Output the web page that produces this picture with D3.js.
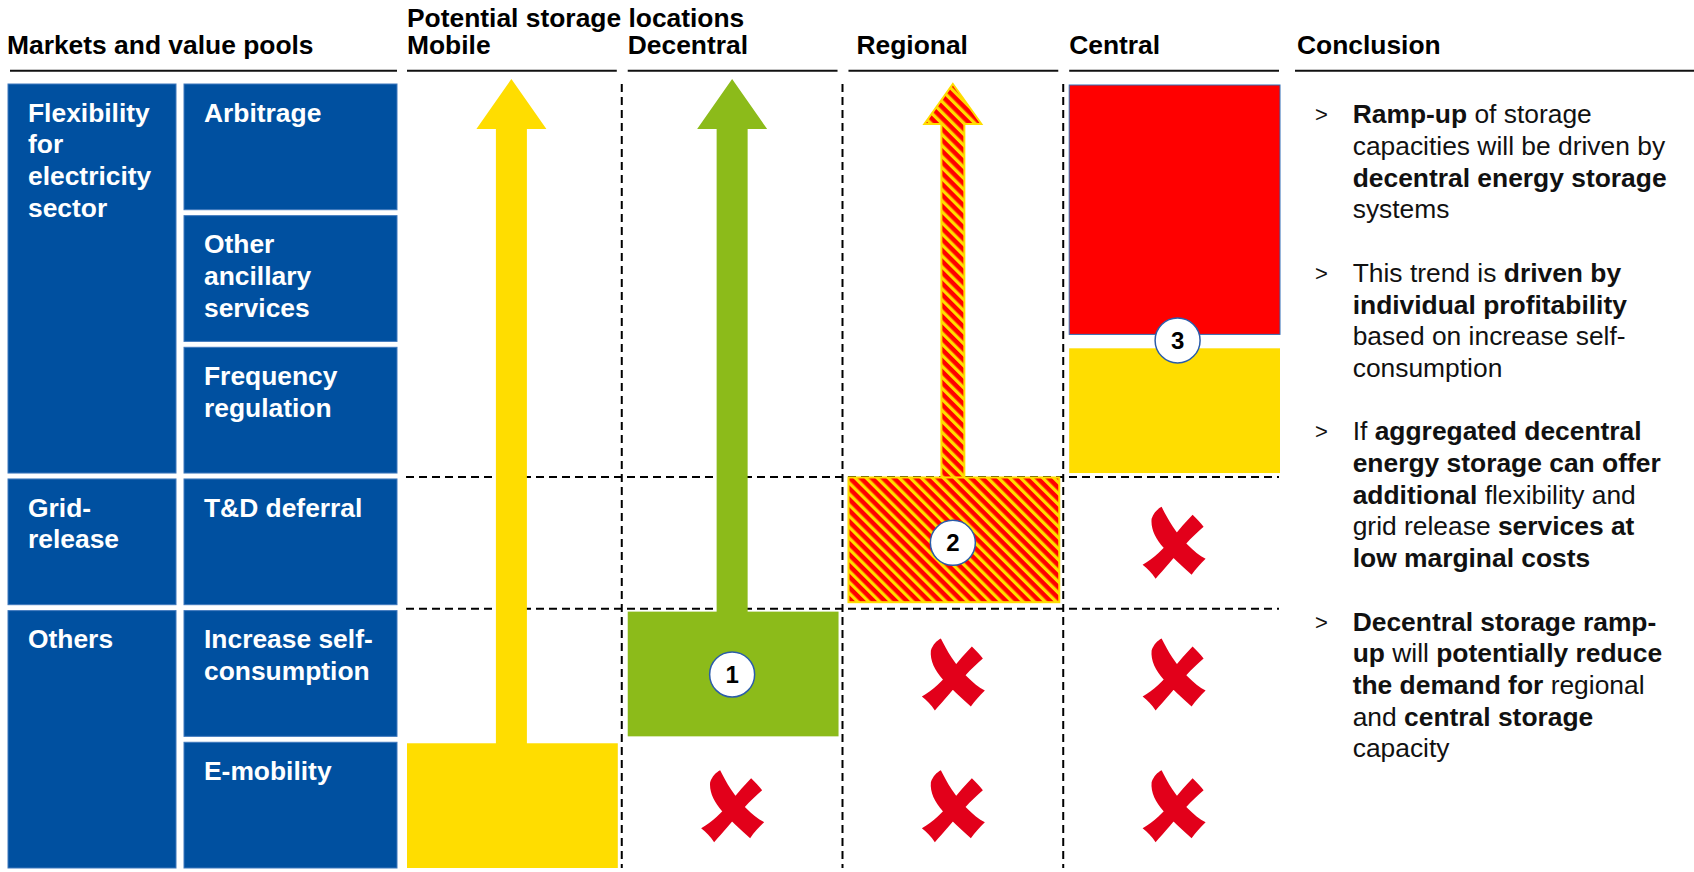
<!DOCTYPE html>
<html>
<head>
<meta charset="utf-8">
<script src="https://cdn.jsdelivr.net/npm/d3@7"></script>
<style>
  body { margin: 0; background: #fff; }
  svg { display: block; font-family: "Liberation Sans", Arial, sans-serif; }
</style>
</head>
<body>
<div id="chart"></div>
<script>
'use strict';

// ---- data ----
var pools = ['Arbitrage', 'Other ancillary services', 'Frequency regulation',
  'T&D deferral', 'Increase self-consumption', 'E-mobility'];
var poolLines = [['Arbitrage'], ['Other', 'ancillary', 'services'], ['Frequency', 'regulation'],
  ['T&D deferral'], ['Increase self-', 'consumption'], ['E-mobility']];

var groups = ['Flexibility for electricity sector', 'Grid-release', 'Others'];
var groupLines = [['Flexibility', 'for', 'electricity', 'sector'], ['Grid-', 'release'], ['Others']];
// first and last pool covered by each group
var groupSpan = [['Arbitrage', 'Frequency regulation'], ['T&D deferral', 'T&D deferral'],
  ['Increase self-consumption', 'E-mobility']];

var locations = ['Mobile', 'Decentral', 'Regional', 'Central'];

// where each storage location is served today (block) and where it can grow (arrow)
var blocks = [
  { loc: 'Mobile', from: 'E-mobility', to: 'E-mobility', fill: 'yellow' },
  { loc: 'Decentral', from: 'Increase self-consumption', to: 'Increase self-consumption', fill: 'green' },
  { loc: 'Regional', from: 'T&D deferral', to: 'T&D deferral', fill: 'hatch' },
  { loc: 'Central', from: 'Arbitrage', to: 'Other ancillary services', fill: 'red' },
  { loc: 'Central', from: 'Frequency regulation', to: 'Frequency regulation', fill: 'yellow' }
];
var arrows = [
  { loc: 'Mobile', from: 'E-mobility', fill: 'yellow' },
  { loc: 'Decentral', from: 'Increase self-consumption', fill: 'green' },
  { loc: 'Regional', from: 'T&D deferral', fill: 'hatch' }
];
var crosses = [
  ['Decentral', 'E-mobility'],
  ['Regional', 'Increase self-consumption'], ['Regional', 'E-mobility'],
  ['Central', 'T&D deferral'], ['Central', 'Increase self-consumption'], ['Central', 'E-mobility']
];
var badges = [
  { n: 1, loc: 'Decentral', pool: 'Increase self-consumption' },
  { n: 2, loc: 'Regional', pool: 'T&D deferral' },
  { n: 3, loc: 'Central', pool: 'Other ancillary services', edge: 'bottom' }
];

var headers = ['Markets and value pools', 'Conclusion'];
var superHeader = 'Potential storage locations';

// ** marks bold runs
var conclusions = [
  ['**Ramp-up** of storage', 'capacities will be driven by', '**decentral energy storage**', 'systems'],
  ['This trend is **driven by**', '**individual profitability**', 'based on increase self-', 'consumption'],
  ['If **aggregated decentral**', '**energy storage can offer**', '**additional** flexibility and',
    'grid release **services at**', '**low marginal costs**'],
  ['**Decentral storage ramp-**', '**up** will **potentially reduce**', '**the demand for** regional',
    'and **central storage**', 'capacity']
];

// ---- look ----
var width = 1694, height = 872;
var fs = 26.4, lineH = 31.7;
var colors = { blue: '#0050a0', yellow: '#ffdd00', green: '#8cbb1a', red: '#ff0000', cross: '#e2001a' };

var svg = d3.select('#chart').append('svg')
  .attr('width', width)
  .attr('height', height);

var defs = svg.append('defs');
var hatch = defs.append('pattern')
  .attr('id', 'hatch')
  .attr('patternUnits', 'userSpaceOnUse')
  .attr('width', 7.8).attr('height', 7.8)
  .attr('patternTransform', 'rotate(-45)');
hatch.append('rect').attr('width', 7.8).attr('height', 7.8).attr('fill', colors.red);
hatch.append('rect').attr('width', 3.3).attr('height', 7.8).attr('fill', colors.yellow);

function fillOf(k) { return k === 'hatch' ? 'url(#hatch)' : colors[k]; }

// scales
var y = d3.scaleBand().domain(pools).range([84, 868]).paddingInner(0.045);
var x = d3.scaleBand().domain(locations).range([406, 1279]).paddingInner(0.045);
var xLeft = d3.scaleOrdinal().domain(['group', 'pool']).range([[8, 176], [184, 397]]);
var conclX = [1295, width];

// ---- headers ----
var hdr = svg.append('g').attr('font-weight', 'bold').attr('font-size', fs).attr('fill', '#000');
hdr.append('text').attr('x', xLeft('group')[0] - 1).attr('y', 54).text(headers[0]);
hdr.append('text').attr('x', x('Mobile') + 1).attr('y', 27).text(superHeader);
hdr.selectAll('text.loc').data(locations).enter().append('text')
  .attr('class', 'loc')
  .attr('x', function(d) { return x(d) + (d === 'Regional' ? 9 : 1); })
  .attr('y', 54)
  .text(function(d) { return d; });
hdr.append('text').attr('x', conclX[0] + 2).attr('y', 54).text(headers[1]);

var rules = [[xLeft('group')[0] + 2, xLeft('pool')[1]]]
  .concat(locations.map(function(d) { return [x(d) + 1, x(d) + x.bandwidth()]; }))
  .concat([conclX]);
svg.append('g').selectAll('line').data(rules).enter().append('line')
  .attr('x1', function(d) { return d[0]; })
  .attr('x2', function(d) { return d[1]; })
  .attr('y1', 70.7).attr('y2', 70.7)
  .attr('stroke', '#111').attr('stroke-width', 2);

// ---- blue market boxes ----
function cellLines(g, x0, top, lines) {
  g.append('text')
    .attr('fill', '#fff').attr('font-weight', 'bold').attr('font-size', fs)
    .selectAll('tspan').data(lines).enter().append('tspan')
    .attr('x', x0 + 20)
    .attr('y', function(d, i) { return top + 37.7 + i * lineH; })
    .text(function(d) { return d; });
}

var left = svg.append('g');
groups.forEach(function(gname, i) {
  var c = xLeft('group');
  var top = y(groupSpan[i][0]), bottom = y(groupSpan[i][1]) + y.bandwidth();
  left.append('rect')
    .attr('x', c[0]).attr('y', top)
    .attr('width', c[1] - c[0]).attr('height', bottom - top)
    .attr('fill', colors.blue).attr('stroke', '#3f78bd').attr('stroke-width', 1);
  cellLines(left, c[0], top, groupLines[i]);
});
pools.forEach(function(p, i) {
  var c = xLeft('pool');
  left.append('rect')
    .attr('x', c[0]).attr('y', y(p))
    .attr('width', c[1] - c[0]).attr('height', y.bandwidth())
    .attr('fill', colors.blue).attr('stroke', '#3f78bd').attr('stroke-width', 1);
  cellLines(left, c[0], y(p), poolLines[i]);
});

// ---- dashed grid ----
var gap = y.step() - y.bandwidth();
var grid = svg.append('g').attr('stroke', '#000').attr('stroke-width', 2).attr('stroke-dasharray', '8,5');
locations.slice(1).forEach(function(d) {
  var gx = x(d) - (x.step() - x.bandwidth()) / 2;
  grid.append('line').attr('x1', gx).attr('x2', gx).attr('y1', 84).attr('y2', 868);
});
['T&D deferral', 'Increase self-consumption'].forEach(function(p) {
  var gy = y(p) - gap / 2 + 1;
  grid.append('line').attr('x1', x.range()[0]).attr('x2', x.range()[1]).attr('y1', gy).attr('y2', gy);
});

// ---- arrows ----
var arrowStyle = {
  yellow: { shaft: 31, head: 70, headLen: 50, lift: 5 },
  green: { shaft: 31, head: 70, headLen: 50, lift: 5 },
  hatch: { shaft: 23, head: 57, headLen: 40, lift: 0 }
};
var mk = svg.append('g');
mk.selectAll('path.arrow').data(arrows).enter().append('path')
  .attr('class', 'arrow')
  .attr('d', function(d) {
    var s = arrowStyle[d.fill];
    var cx = x(d.loc) + x.bandwidth() / 2;
    var tip = y.range()[0] - s.lift, base = tip + s.headLen;
    var bottom = y(d.from) + 2;
    return 'M' + cx + ',' + tip +
      'L' + (cx + s.head / 2) + ',' + base +
      'L' + (cx + s.shaft / 2) + ',' + base +
      'L' + (cx + s.shaft / 2) + ',' + bottom +
      'L' + (cx - s.shaft / 2) + ',' + bottom +
      'L' + (cx - s.shaft / 2) + ',' + base +
      'L' + (cx - s.head / 2) + ',' + base + 'Z';
  })
  .attr('fill', function(d) { return fillOf(d.fill); })
  .attr('stroke', function(d) { return d.fill === 'hatch' ? colors.yellow : 'none'; })
  .attr('stroke-width', 2);

// ---- blocks ----
mk.selectAll('rect.block').data(blocks).enter().append('rect')
  .attr('class', 'block')
  .attr('x', function(d) { return x(d.loc) + 1; })
  .attr('y', function(d) { return y(d.from) + (d.fill === 'hatch' ? -1.5 : 1); })
  .attr('width', x.bandwidth())
  .attr('height', function(d) {
    var h = y(d.to) + y.bandwidth() - y(d.from);
    return d.fill === 'red' ? h - 8 : h - 1;
  })
  .attr('fill', function(d) { return fillOf(d.fill); })
  .attr('stroke', function(d) {
    return d.fill === 'hatch' ? colors.yellow : d.fill === 'red' ? '#2f6db5' : 'none';
  })
  .attr('stroke-width', function(d) { return d.fill === 'hatch' ? 2 : 1; });

// ---- crosses ----
var crossPath = 'M-12,-36C-6,-24 2,-10 14,2C20,8 26,13 32,16C27,21 22,26 18,32' +
  'C8,23 -2,14 -10,5C-18,-4 -23,-14 -22,-24C-20,-30 -16,-34 -12,-36Z' +
  'M19,-28C23,-24 27,-20 30,-16C18,-6 6,8 -4,20C-9,26 -14,31 -18,36' +
  'C-22,30 -26,26 -31,22C-20,16 -10,6 -2,-4C6,-14 13,-22 19,-28Z';
mk.selectAll('path.cross').data(crosses).enter().append('path')
  .attr('class', 'cross')
  .attr('d', crossPath)
  .attr('fill', colors.cross)
  .attr('transform', function(d) {
    return 'translate(' + (x(d[0]) + x.bandwidth() / 2) + ',' + (y(d[1]) + y.bandwidth() / 2 + 1) + ')';
  });

// ---- numbered badges ----
var bd = mk.selectAll('g.badge').data(badges).enter().append('g')
  .attr('class', 'badge')
  .attr('transform', function(d) {
    var cx = x(d.loc) + x.bandwidth() / 2 + (d.edge ? 4 : 0);
    var cy = d.edge ? y(d.pool) + y.bandwidth() - 1 : y(d.pool) + y.bandwidth() / 2 + 1;
    return 'translate(' + cx + ',' + cy + ')';
  });
bd.append('circle').attr('r', 22.5).attr('fill', '#fff').attr('stroke', '#2a5caa').attr('stroke-width', 1.5);
bd.append('text')
  .attr('text-anchor', 'middle').attr('dy', '0.36em')
  .attr('font-weight', 'bold').attr('font-size', 24).attr('fill', '#000')
  .text(function(d) { return d.n; });

// ---- conclusion bullets ----
var concl = svg.append('g').attr('font-size', fs).attr('fill', '#111');
var row = 0;
conclusions.forEach(function(bullet) {
  var by = 123.3 + row * lineH;
  concl.append('text').attr('x', 1315).attr('y', by - 1).attr('font-size', 22).text('>');
  bullet.forEach(function(line, li) {
    var t = concl.append('text').attr('x', 1352.7).attr('y', by + li * lineH);
    line.split('**').forEach(function(part, pi) {
      if (!part) return;
      t.append('tspan')
        .attr('font-weight', pi % 2 ? 'bold' : 'normal')
        .text(part);
    });
  });
  row += bullet.length + 1;
});
</script>
</body>
</html>
